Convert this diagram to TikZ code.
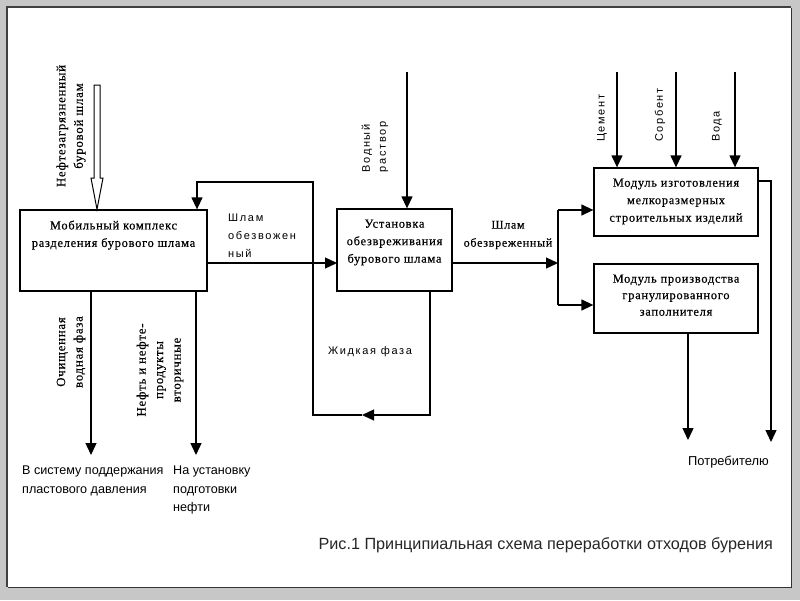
\documentclass[tikz,border=0pt]{standalone}
\usepackage{fontspec}
\setmainfont{Liberation Serif}
\setsansfont{Liberation Sans}
\newfontfamily\spsans[LetterSpace=15]{Liberation Sans}
\newfontfamily\spserif[LetterSpace=6,FakeBold=0.4]{Liberation Serif}
\usetikzlibrary{arrows.meta}
\begin{document}
\begin{tikzpicture}[x=1pt,y=-1pt,
  box/.style={draw, line width=1.3pt, inner sep=0pt},
  boxtxt/.style={font=\spserif\fontsize{12.4}{17.5}\selectfont, align=center, anchor=north, inner sep=0pt},
  ln/.style={line width=1.3pt},
  arr/.style={line width=1.3pt, -{Triangle[length=12pt,width=11pt]}},
  lbl/.style={font=\spsans\fontsize{11}{18}\selectfont, align=left, inner sep=0pt},
  blbl/.style={font=\sffamily\fontsize{12.6}{18.5}\selectfont, align=left, inner sep=0pt, anchor=north west},
  rlbl/.style={font=\spserif\fontsize{12.8}{17.5}\selectfont, align=center, rotate=90, inner sep=0pt},
  rslbl/.style={font=\spsans\fontsize{11}{16}\selectfont, align=left, rotate=90, inner sep=0pt}]
\useasboundingbox (0,0) rectangle (800,600);
% frame
\fill[black!22] (0,0) rectangle (800,600);
\fill[white] (8,8) rectangle (791,587);
\draw[line width=0.8pt, black!80] (8,587) -- (791,587) -- (791,8);
\draw[line width=2pt, black!75] (7,587) -- (7,7) -- (791,7);

% boxes
\node[box, minimum width=187pt, minimum height=81pt] (A) at (113.5,250.5) {};
\node[boxtxt] (At) at ([yshift=-11pt]A.north) {Мобильный комплекс\\разделения бурового шлама};
\node[box, minimum width=115pt, minimum height=82pt] (B) at (394.5,250) {};
\node[boxtxt] (Bt) at ([yshift=-11pt]B.north) {Установка\\обезвреживания\\бурового шлама};
\node[box, minimum width=164pt, minimum height=68pt] (C) at (676,202) {};
\node[boxtxt] (Ct) at ([yshift=-11pt]C.north) {Модуль изготовления\\мелкоразмерных\\строительных изделий};
\node[box, minimum width=164pt, minimum height=69pt] (D) at (676,298.5) {};
\node[boxtxt, font=\spserif\fontsize{12.4}{16.5}\selectfont] (Dt) at ([yshift=-11pt]D.north) {Модуль производства\\гранулированного\\заполнителя};

% hollow input arrow
\coordinate (hin) at (97,85);
\coordinate (htip) at (hin |- A.north);
\draw[line width=1pt, fill=white] ([xshift=-3pt]hin) -- ([xshift=3pt]hin) -- ([xshift=3pt]hin |- 0,178) -- ([xshift=6pt]hin |- 0,178) -- (htip) -- ([xshift=-6pt]hin |- 0,178) -- ([xshift=-3pt]hin |- 0,178) -- cycle;
\node[rlbl] (lhin) at (71,126) {Нефтезагрязненный\\буровой шлам};

% A -> B
\coordinate (ab1) at (207,263);
\coordinate (ab2) at (337,263);
\draw[arr] (ab1) -- (ab2);
\node[lbl, anchor=west] (lab) at (228,236) {Шлам\\обезвожен\\ный};

% water solution
\coordinate (vin) at (407,72);
\draw[arr] (vin) -- (vin |- B.north);
\node[rslbl, align=left] (lvin) at (375,147) {Водный\\раствор};

% liquid phase loop
\coordinate (l1) at (430,291);
\coordinate (l2) at (430,415);
\coordinate (l3) at (362,415);
\coordinate (l4) at (313,415);
\coordinate (l5) at (313,182);
\coordinate (l6) at (197,182);
\draw[arr] (l1) -- (l2) -- (l3);
\draw[arr] (l3) -- (l4) -- (l5) -- (l6) -- (l6 |- A.north);
\node[font=\spsans\fontsize{11}{14}\selectfont, inner sep=0pt] (lliq) at (370,352) {Жидкая фаза};

% B -> split
\coordinate (bs1) at (452,263);
\coordinate (sp) at (558,263);
\coordinate (spc) at (558,210);
\coordinate (spd) at (558,305);
\draw[arr] (bs1) -- (sp);
\draw[ln] (spc) -- (spd);
\draw[arr] (spc) -- (spc -| C.west);
\draw[arr] (spd) -- (spd -| D.west);
\node[font=\spserif\fontsize{12}{18}\selectfont, align=center, inner sep=0pt] (lbs) at (508,235) {Шлам\\обезвреженный};

% C inputs
\coordinate (cin1) at (617,72);
\coordinate (cin2) at (676,72);
\coordinate (cin3) at (735,72);
\draw[arr] (cin1) -- (cin1 |- C.north);
\draw[arr] (cin2) -- (cin2 |- C.north);
\draw[arr] (cin3) -- (cin3 |- C.north);
\node[rslbl, anchor=west] (lc1) at (602,142) {Цемент};
\node[rslbl, anchor=west] (lc2) at (660,142) {Сорбент};
\node[rslbl, anchor=west] (lc3) at (717,142) {Вода};

% outputs to consumer
\coordinate (co1) at (758,181);
\coordinate (co2) at (771,181);
\coordinate (co3) at (771,442);
\draw[arr] (co1) -- (co2) -- (co3);
\coordinate (do1) at (688,333);
\coordinate (do2) at (688,440);
\draw[arr] (do1) -- (do2);
\node[font=\sffamily\fontsize{12.9}{14}\selectfont, inner sep=0pt, anchor=west] (lcons) at (688,462) {Потребителю};

% A outputs
\coordinate (ao1) at (91,291);
\coordinate (ao1e) at (91,455);
\coordinate (ao2) at (196,291);
\coordinate (ao2e) at (196,455);
\draw[arr] (ao1) -- (ao1e);
\draw[arr] (ao2) -- (ao2e);
\node[rlbl] (lao1) at (71,352) {Очищенная\\водная фаза};
\node[rlbl] (lao2) at (160,370) {Нефть и нефте-\\продукты\\вторичные};
\node[blbl] (lb1) at (22,466) {В систему поддержания\\пластового давления};
\node[blbl] (lb2) at (173,466) {На установку\\подготовки\\нефти};

% caption
\node[font=\sffamily\fontsize{16.2}{18}\selectfont, text=black!85, inner sep=0pt, anchor=east] (cap) at (773,545) {Рис.1 Принципиальная схема переработки отходов бурения};
\end{tikzpicture}
\end{document}
